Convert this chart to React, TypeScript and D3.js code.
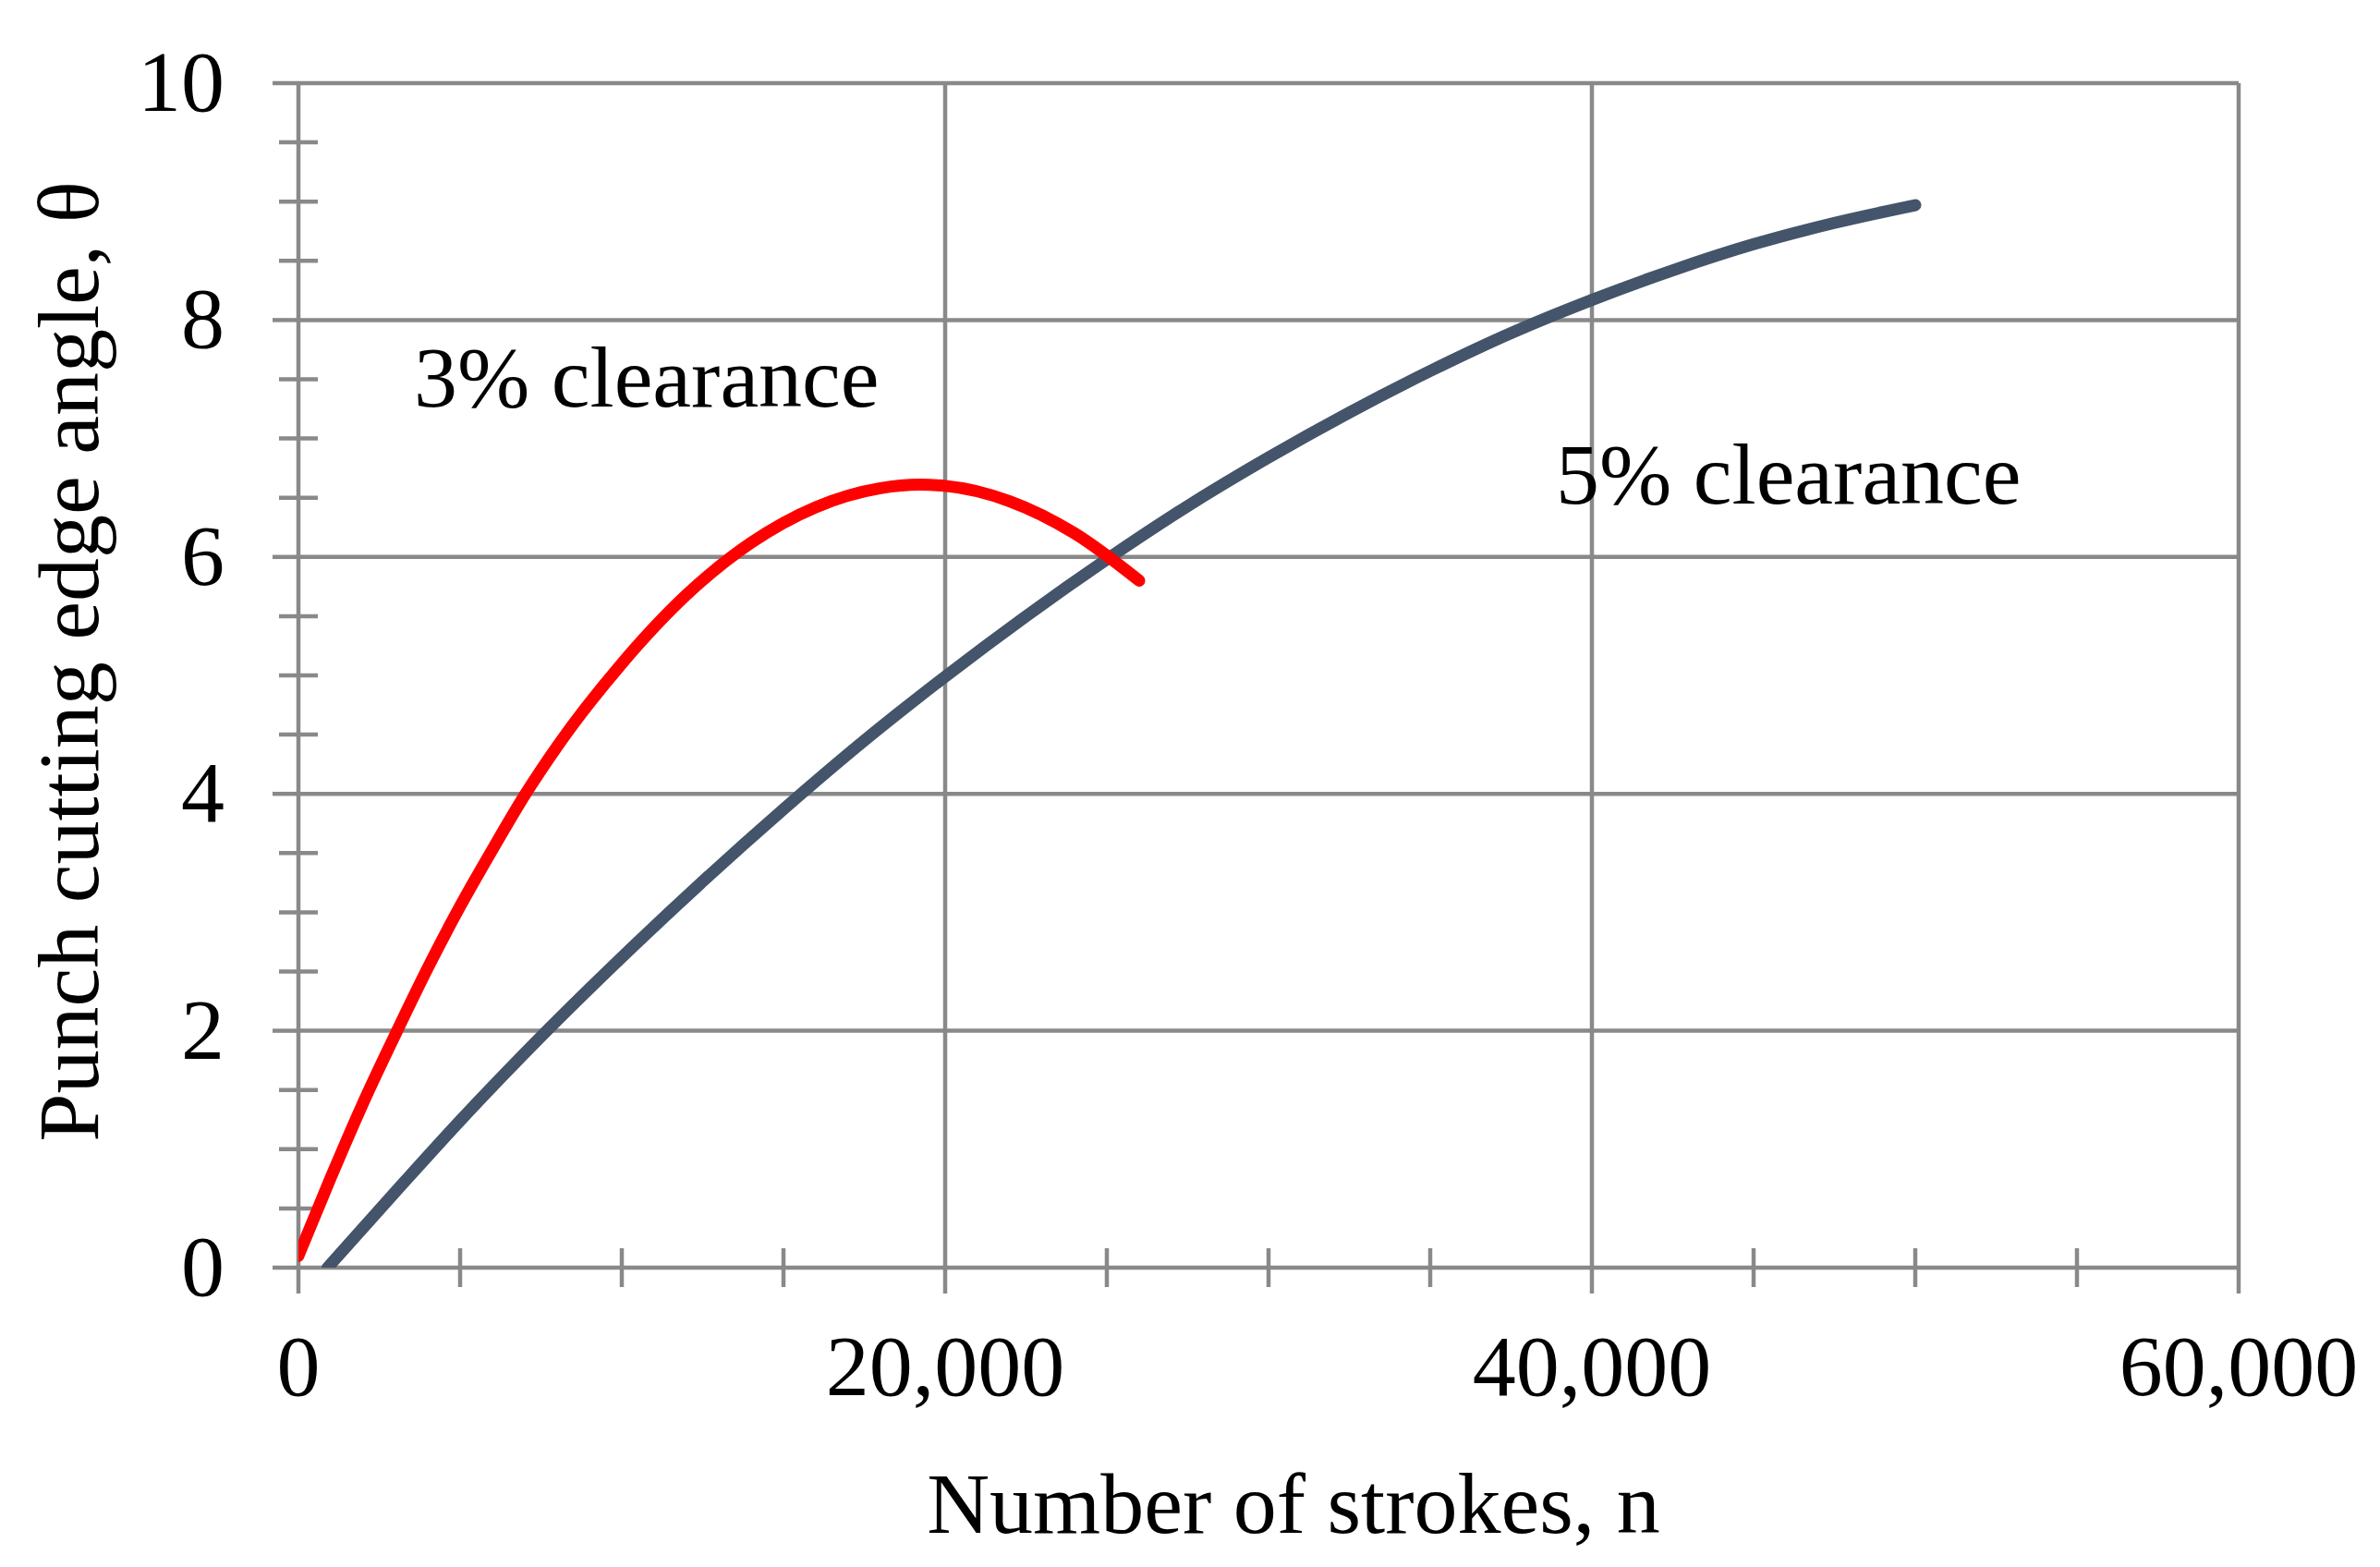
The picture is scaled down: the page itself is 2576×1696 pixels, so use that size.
import React, { useEffect, useRef } from 'react';
import * as d3 from 'd3';

// 3% clearance curve (strokes, angle)
const clear3X = [0, 1000, 2000, 3000, 4000, 5000, 6000, 7000, 8000, 10000, 12000, 14000, 16000, 18000, 19200, 20000, 22000, 24000, 26000];
const clear3Y = [0.1, 0.76, 1.39, 1.97, 2.53, 3.05, 3.53, 3.99, 4.4, 5.1, 5.68, 6.12, 6.42, 6.58, 6.61, 6.6, 6.47, 6.2, 5.8];

// 5% clearance curve
const clear5X = [900, 3000, 5000, 7500, 10000, 12500, 15000, 17500, 20000, 22500, 25000, 27500, 30000, 32500, 35000, 37500, 40000, 42500, 45000, 47500, 50000];
const clear5Y = [0, 0.64, 1.24, 1.95, 2.62, 3.26, 3.87, 4.45, 4.99, 5.5, 5.98, 6.43, 6.84, 7.22, 7.57, 7.89, 8.17, 8.42, 8.64, 8.82, 8.97];

const xMajorTicks = [0, 20000, 40000, 60000];
const xMinorTicks = [5000, 10000, 15000, 25000, 30000, 35000, 45000, 50000, 55000];
const yMajorTicks = [0, 2, 4, 6, 8, 10];
const yMinorTicks = [0.5, 1, 1.5, 2.5, 3, 3.5, 4.5, 5, 5.5, 6.5, 7, 7.5, 8.5, 9, 9.5];

const xTitle = 'Number of strokes, n';
const yTitle = 'Punch cutting edge angle, θ';
const label3 = '3% clearance';
const label5 = '5% clearance';

const W = 2576;
const H = 1696;
const FONT = '"Liberation Serif", "Times New Roman", serif';
const GRID = '#898989';

const Chart = () => {
  const svgRef = useRef<SVGSVGElement>(null);

  useEffect(() => {
    const svg = d3.select(svgRef.current);
    svg.selectAll('*').remove();

    const x = d3.scaleLinear().domain([0, 60000]).range([323, 2423]);
    const y = d3.scaleLinear().domain([0, 10]).range([1372, 90]);

    svg.append('rect').attr('width', W).attr('height', H).attr('fill', '#fff');

    svg.append('defs').append('clipPath').attr('id', 'plot-clip')
      .append('rect')
      .attr('x', x(0)).attr('y', y(10))
      .attr('width', x(60000) - x(0)).attr('height', y(0) - y(10));

    const g = svg.append('g');

    // gridlines
    g.selectAll('.hgrid').data(yMajorTicks).enter().append('line')
      .attr('x1', x(0)).attr('x2', x(60000))
      .attr('y1', d => y(d)).attr('y2', d => y(d))
      .attr('stroke', GRID).attr('stroke-width', 4.5);

    g.selectAll('.vgrid').data(xMajorTicks).enter().append('line')
      .attr('x1', d => x(d)).attr('x2', d => x(d))
      .attr('y1', y(10)).attr('y2', y(0))
      .attr('stroke', GRID).attr('stroke-width', 4.5);

    // major ticks (outside)
    g.selectAll('.ymaj').data(yMajorTicks).enter().append('line')
      .attr('x1', x(0) - 28).attr('x2', x(0))
      .attr('y1', d => y(d)).attr('y2', d => y(d))
      .attr('stroke', GRID).attr('stroke-width', 4.5);

    g.selectAll('.xmaj').data(xMajorTicks).enter().append('line')
      .attr('x1', d => x(d)).attr('x2', d => x(d))
      .attr('y1', y(0)).attr('y2', y(0) + 28)
      .attr('stroke', GRID).attr('stroke-width', 4.5);

    // minor ticks (cross the axis)
    g.selectAll('.ymin').data(yMinorTicks).enter().append('line')
      .attr('x1', x(0) - 21).attr('x2', x(0) + 21)
      .attr('y1', d => y(d)).attr('y2', d => y(d))
      .attr('stroke', GRID).attr('stroke-width', 4.5);

    g.selectAll('.xmin').data(xMinorTicks).enter().append('line')
      .attr('x1', d => x(d)).attr('x2', d => x(d))
      .attr('y1', y(0) - 21).attr('y2', y(0) + 21)
      .attr('stroke', GRID).attr('stroke-width', 4.5);

    // tick labels
    g.selectAll('.ylab').data(yMajorTicks).enter().append('text')
      .attr('x', 243).attr('y', d => y(d) + 30)
      .attr('text-anchor', 'end')
      .attr('font-family', FONT).attr('font-size', 94).attr('fill', '#000')
      .text(d => d);

    g.selectAll('.xlab').data(xMajorTicks).enter().append('text')
      .attr('x', d => x(d)).attr('y', 1510)
      .attr('text-anchor', 'middle')
      .attr('font-family', FONT).attr('font-size', 94).attr('fill', '#000')
      .text(d => d3.format(',')(d));

    // curves
    const line = d3.line<[number, number]>()
      .x(d => x(d[0]))
      .y(d => y(d[1]))
      .curve(d3.curveMonotoneX);

    const series = [
      { pts: clear5X.map((v, i) => [v, clear5Y[i]] as [number, number]), color: '#44546a' },
      { pts: clear3X.map((v, i) => [v, clear3Y[i]] as [number, number]), color: '#ff0000' },
    ];

    const lines = svg.append('g').attr('clip-path', 'url(#plot-clip)');
    series.forEach(s => {
      lines.append('path')
        .attr('d', line(s.pts))
        .attr('fill', 'none')
        .attr('stroke', s.color)
        .attr('stroke-width', 13)
        .attr('stroke-linecap', 'round')
        .attr('stroke-linejoin', 'round');
    });

    // annotations
    svg.append('text')
      .attr('x', 448).attr('y', 440)
      .attr('font-family', FONT).attr('font-size', 94).attr('fill', '#000')
      .text(label3);

    svg.append('text')
      .attr('x', 1684).attr('y', 545)
      .attr('font-family', FONT).attr('font-size', 94).attr('fill', '#000')
      .text(label5);

    // axis titles
    svg.append('text')
      .attr('x', 1400).attr('y', 1659)
      .attr('text-anchor', 'middle')
      .attr('font-family', FONT).attr('font-size', 94).attr('fill', '#000')
      .text(xTitle);

    svg.append('text')
      .attr('transform', 'translate(106,716) rotate(-90)')
      .attr('text-anchor', 'middle')
      .attr('font-family', FONT).attr('font-size', 94).attr('fill', '#000')
      .text(yTitle);
  }, []);

  return (
    <svg
      ref={svgRef}
      width={W}
      height={H}
      style={{ position: 'absolute', left: 0, top: 0, display: 'block' }}
    />
  );
};

export default function App() {
  return <Chart />;
}
